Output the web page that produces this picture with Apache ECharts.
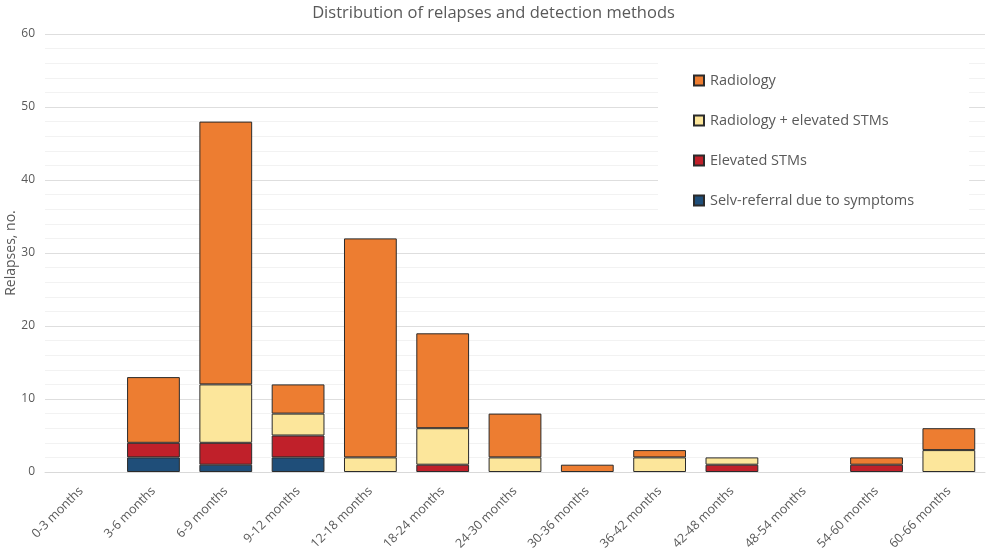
<!DOCTYPE html>
<html><head><meta charset="utf-8">
<script src="https://cdn.jsdelivr.net/npm/echarts@6/dist/echarts.min.js"></script>
<style>html,body{margin:0;padding:0;background:#fff}#c{width:987px;height:552px}</style>
</head><body><div id="c"></div>
<script>
const categories = ['0-3 months','3-6 months','6-9 months','9-12 months','12-18 months','18-24 months','24-30 months','30-36 months','36-42 months','42-48 months','48-54 months','54-60 months','60-66 months'];
const selvReferral = [0,2,1,2,0,0,0,0,0,0,0,0,0];
const elevatedSTMs = [0,2,3,3,0,1,0,0,0,1,0,1,0];
const radiologySTMs = [0,0,8,3,2,5,2,0,2,1,0,0,3];
const radiology = [0,9,36,4,30,13,6,1,1,0,0,1,3];
const yTicks = {min:0, max:60, interval:10};

const font = '"Open Sans", "Noto Sans", sans-serif';
const txt = '#595959';
const clean = a => a.map(v => v === 0 ? '-' : v);
function s(name, data, color){
  return {name, type:'bar', stack:'t', data:clean(data), barWidth:'73%',
    itemStyle:{color, borderColor:'#2b2b2b', borderWidth:1}};
}
const chart = echarts.init(document.getElementById('c'), null, {renderer:'canvas'});
chart.setOption({
  animation:false,
  title:{text:'Distribution of relapses and detection methods', left:'center', top:0,
    textStyle:{fontFamily:font, fontWeight:'normal', fontSize:16.5, color:txt}},
  grid:{left:45, right:2, top:34, bottom:80, containLabel:false, outerBoundsMode:'none'},
  legend:{orient:'vertical', left:658, top:61, itemGap:25, itemWidth:10, itemHeight:10,
    padding:[12,55,12,35], backgroundColor:'#fff', icon:'rect',
    data:['Radiology','Radiology + elevated STMs','Elevated STMs','Selv-referral due to symptoms'],
    textStyle:{fontFamily:font, fontSize:14.5, color:txt, padding:[0,0,0,1]}},
  xAxis:{type:'category', data:categories,
    axisLine:{lineStyle:{color:'#d9d9d9'}}, axisTick:{show:false},
    axisLabel:{rotate:45, interval:0, fontFamily:font, fontSize:12.5, color:txt, margin:17}},
  yAxis:{type:'value', min:yTicks.min, max:yTicks.max, interval:yTicks.interval,
    name:'Relapses, no.', nameLocation:'middle', nameGap:27, nameMoveOverlap:false,
    nameTextStyle:{fontFamily:font, fontSize:14, color:txt},
    axisLabel:{fontFamily:font, fontSize:12, color:txt, margin:10},
    axisLine:{show:false}, axisTick:{show:false},
    splitLine:{lineStyle:{color:'#dedede'}},
    minorTick:{show:false, splitNumber:5},
    minorSplitLine:{show:true, lineStyle:{color:'#f2f2f2'}}},
  series:[
    s('Selv-referral due to symptoms', selvReferral, '#1f4e79'),
    s('Elevated STMs', elevatedSTMs, '#c0202a'),
    s('Radiology + elevated STMs', radiologySTMs, '#fce69b'),
    s('Radiology', radiology, '#ed7d31')
  ]
});
</script></body></html>
